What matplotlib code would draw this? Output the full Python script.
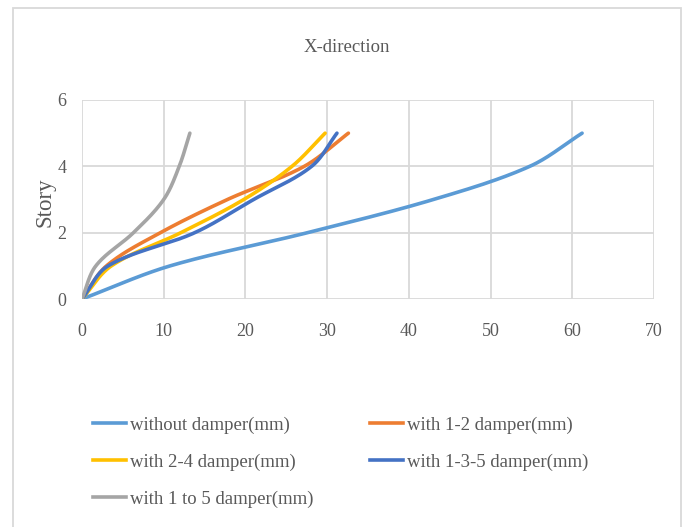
import numpy as np
import matplotlib
matplotlib.use("Agg")
import matplotlib.pyplot as plt
from matplotlib.patches import Rectangle
from matplotlib.lines import Line2D

# ---- data ----
stories = [0, 1, 2, 3, 4, 5]
without_damper = [0, 10.8, 27.6, 43.0, 54.8, 61.2]
damper_1_2 = [0, 3.0, 9.6, 17.8, 27.2, 32.6]
damper_2_4 = [0, 3.6, 12.1, 19.8, 25.7, 29.75]
damper_1_3_5 = [0, 3.2, 13.8, 21.0, 28.1, 31.2]
damper_1_to_5 = [0, 1.7, 6.3, 10.0, 11.9, 13.2]

labels = ["without damper(mm)", "with 1-2 damper(mm)", "with 2-4 damper(mm)",
          "with 1-3-5 damper(mm)", "with 1 to 5 damper(mm)"]
colors = ["#5B9BD5", "#ED7D31", "#FFC000", "#4472C4", "#A5A5A5"]
series = [without_damper, damper_1_2, damper_2_4, damper_1_3_5, damper_1_to_5]
xticks = [0, 10, 20, 30, 40, 50, 60, 70]
yticks = [0, 2, 4, 6]

XMAX, YMAX = 70, 6
AXW, AXH = 572.0, 199.0  # axes size in pixels, used for smoothing metric


def smooth(xs, ys, n=40):
    """Smooth curve through points (Bezier with length-scaled tangents)."""
    P = np.column_stack([np.asarray(xs, float) / XMAX * AXW,
                         np.asarray(ys, float) / YMAX * AXH])
    m = len(P)
    tang = np.zeros_like(P)
    for i in range(m):
        if i == 0:
            d = P[1] - P[0]
        elif i == m - 1:
            d = P[-1] - P[-2]
        else:
            d = P[i + 1] - P[i - 1]
        tang[i] = d / np.linalg.norm(d)
    out = []
    for i in range(m - 1):
        p1, p2 = P[i], P[i + 1]
        L = np.linalg.norm(p2 - p1)
        c1 = p1 + tang[i] * L / 3.0
        c2 = p2 - tang[i + 1] * L / 3.0
        t = np.linspace(0, 1, n)[:, None]
        seg = ((1 - t) ** 3) * p1 + 3 * ((1 - t) ** 2) * t * c1 + 3 * (1 - t) * t ** 2 * c2 + t ** 3 * p2
        out.append(seg if i == 0 else seg[1:])
    arr = np.vstack(out)
    return arr[:, 0] / AXW * XMAX, arr[:, 1] / AXH * YMAX


FONT = "Liberation Serif"
TXT = "#595959"

W, H = 686, 527
fig = plt.figure(figsize=(W / 100, H / 100), dpi=100)

# chart border
fig.patches.append(Rectangle((13 / W, -0.02), (681 - 13) / W, 1 - 8 / H + 0.02,
                             transform=fig.transFigure, fill=False,
                             edgecolor="#D9D9D9", linewidth=1.3))

ax = fig.add_axes([82 / W, 1 - 299 / H, (654 - 82) / W, (299 - 100) / H])
for ys, c in zip(series, colors):
    sx, sy = smooth(ys, stories)
    ax.plot(sx, sy, color=c, lw=2.6, solid_capstyle="round")

ax.set_xlim(0, XMAX)
ax.set_ylim(0, YMAX)
ax.set_xticks(xticks)
ax.set_yticks(yticks)
ax.grid(True, color="#D9D9D9", lw=1.3)
ax.set_axisbelow(True)
for s in ax.spines.values():
    s.set_visible(False)
ax.tick_params(length=0, labelcolor=TXT, labelsize=13)
ax.tick_params(axis="x", pad=17)
ax.tick_params(axis="y", pad=11)
for lab in ax.get_xticklabels() + ax.get_yticklabels():
    lab.set_family(FONT)

fig.text(347 / W, 1 - 47.5 / H, "X-direction", ha="center", va="center",
         family=FONT, fontsize=13.5, color=TXT)
fig.text(45 / W, 1 - 202 / H, "Story", ha="center", va="center", rotation=90,
         family=FONT, fontsize=16.5, color=TXT)

handles = [Line2D([], [], color=c, lw=2.6) for c in colors]
order = [0, 2, 4, 1, 3]  # fill legend row by row
fig.legend([handles[i] for i in order], [labels[i] for i in order],
           ncol=2, loc="upper left",
           bbox_to_anchor=(84 / W, 1 - 407 / H), frameon=False,
           borderpad=0, handlelength=1.75, handletextpad=0.2,
           columnspacing=3.04, labelspacing=1.06,
           prop={"family": FONT, "size": 13.5}, labelcolor=TXT)

fig.savefig("out.png", dpi=100)
